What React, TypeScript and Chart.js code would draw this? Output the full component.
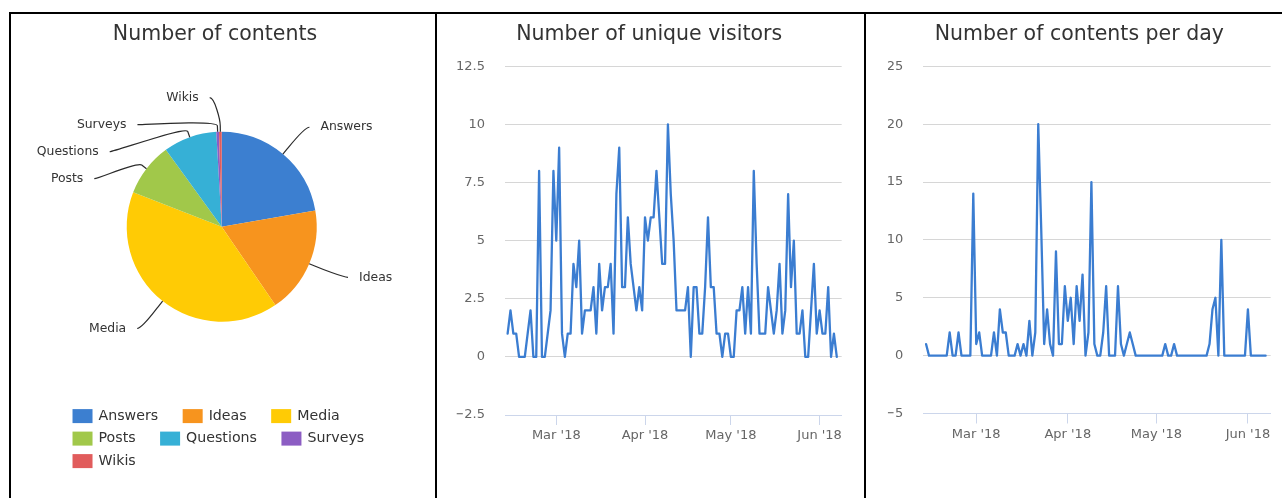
import React, { useEffect, useRef } from "react";
import { Chart, registerables, layouts } from "chart.js";

Chart.register(...registerables);

const FONT_FAMILY = '"DejaVu Sans", Verdana, sans-serif';
Chart.defaults.font.family = FONT_FAMILY;

// ---------- Pie: number of contents ----------
const contentCategories = ["Answers", "Ideas", "Media", "Posts", "Questions", "Surveys", "Wikis"];
const contentCounts = [49, 40, 89, 20, 20, 1, 1];
const contentColors = ["#3c7fd0", "#f7941e", "#ffcb05", "#a1c84a", "#36b0d6", "#8c5dc3", "#e15c5c"];

// ---------- Daily series (one value per day) ----------
const seriesStartDate = "2018-02-12";
const uniqueVisitors = [
  1, 2, 1, 1, 0, 0, 0, 1, 2, 0,
  0, 8, 0, 0, 1, 2, 8, 5, 9, 1,
  0, 1, 1, 4, 3, 5, 1, 2, 2, 2,
  3, 1, 4, 2, 3, 3, 4, 1, 7, 9,
  3, 3, 6, 4, 3, 2, 3, 2, 6, 5,
  6, 6, 8, 6, 4, 4, 10, 7, 5, 2,
  2, 2, 2, 3, 0, 3, 3, 1, 1, 3,
  6, 3, 3, 1, 1, 0, 1, 1, 0, 0,
  2, 2, 3, 1, 3, 1, 8, 4, 1, 1,
  1, 3, 2, 1, 2, 4, 1, 2, 7, 3,
  5, 1, 1, 2, 0, 0, 2, 4, 1, 2,
  1, 1, 3, 0, 1, 0,
];
const contentsPerDay = [
  1, 0, 0, 0, 0, 0, 0, 0, 2, 0,
  0, 2, 0, 0, 0, 0, 14, 1, 2, 0,
  0, 0, 0, 2, 0, 4, 2, 2, 0, 0,
  0, 1, 0, 1, 0, 3, 0, 2, 20, 11,
  1, 4, 1, 0, 9, 1, 1, 6, 3, 5,
  1, 6, 3, 7, 0, 2, 15, 1, 0, 0,
  2, 6, 0, 0, 0, 6, 1, 0, 1, 2,
  1, 0, 0, 0, 0, 0, 0, 0, 0, 0,
  0, 1, 0, 0, 1, 0, 0, 0, 0, 0,
  0, 0, 0, 0, 0, 0, 1, 4, 5, 0,
  10, 0, 0, 0, 0, 0, 0, 0, 0, 4,
  0, 0, 0, 0, 0, 0,
];
const monthTickDates = ["2018-03-01", "2018-04-01", "2018-05-01", "2018-06-01"];
const monthTickLabels = ["Mar '18", "Apr '18", "May '18", "Jun '18"];
const visitorsTicks = [-2.5, 0, 2.5, 5, 7.5, 10, 12.5];
const contentsTicks = [-5, 0, 5, 10, 15, 20, 25];
const axisStart = "2018-02-11T02:00:00Z";
const axisEnd = "2018-06-08T17:00:00Z";

// ---------- styling ----------
const LINE_COLOR = "#3b7dd1";
const GRID_COLOR = "#d6d6d6";
const AXIS_COLOR = "#ccd6eb";
const TEXT_DARK = "#333333";
const TEXT_AXIS = "#666666";
const TITLE_FONT = { family: FONT_FAMILY, size: 20.5, weight: "normal" as const };
const TITLE_PADDING = { top: 8.3, bottom: 19.4 };

const DAY_MS = 86400000;
const toUTC = (d: string) => Date.parse(d.length === 10 ? d + "T00:00:00Z" : d);
const monthTickValues = monthTickDates.map(toUTC);
const fmtNum = (v: number) => (v < 0 ? "\u2212" + String(Math.abs(v)) : String(v));

function toPoints(values: number[]) {
  const t0 = toUTC(seriesStartDate);
  return values.map((v, i) => ({ x: t0 + i * DAY_MS, y: v }));
}

function makeSpacer(width: number) {
  return {
    id: "leftSpacer",
    beforeInit(chart: any) {
      const box: any = {
        position: "left",
        weight: 0,
        fullSize: false,
        options: {},
        left: 0, top: 0, right: 0, bottom: 0, width: 0, height: 0,
        isHorizontal() { return false; },
        update(_maxW: number, maxH: number) { this.width = width; this.height = maxH; },
        draw() {},
      };
      layouts.addBox(chart, box);
    },
  };
}

const pieLabelsPlugin = {
  id: "pieLabels",
  afterDatasetsDraw(chart: any) {
    const meta = chart.getDatasetMeta(0);
    const ctx = chart.ctx as CanvasRenderingContext2D;
    const labels = chart.data.labels as string[];
    const items = meta.data.map((arc: any, i: number) => {
      const p = arc.getProps(["x", "y", "startAngle", "endAngle", "outerRadius"], true);
      const a = (p.startAngle + p.endAngle) / 2;
      const cos = Math.cos(a), sin = Math.sin(a);
      return {
        text: labels[i], cx: p.x, cy: p.y, r: p.outerRadius, cos, sin,
        right: cos >= 0, natY: p.y + (p.outerRadius + 35) * sin, y: 0, atEdge: false,
      };
    });
    for (const side of [true, false]) {
      const group = items.filter((it: any) => it.right === side).sort((a: any, b: any) => a.natY - b.natY);
      let prev = -Infinity;
      group.forEach((it: any) => {
        const minY = it.cy - it.r - 34;
        let y = Math.max(it.natY, prev + 27);
        if (y <= minY) { y = minY; it.atEdge = true; }
        it.y = y;
        prev = y;
      });
    }
    ctx.save();
    ctx.font = `12.4px ${FONT_FAMILY}`;
    ctx.textBaseline = "middle";
    items.forEach((it: any) => {
      const R = it.r + 30;
      const useY = it.atEdge ? it.natY : it.y;
      const dy = Math.max(-R, Math.min(R, useY - it.cy));
      const dx = Math.sqrt(R * R - dy * dy) + 12;
      const sign = it.right ? 1 : -1;
      const ax = it.cx + sign * dx;
      const ay = it.y;
      const tx = it.cx + it.r * it.cos, ty = it.cy + it.r * it.sin;
      const bx = it.cx + (it.r + 6) * it.cos, by = it.cy + (it.r + 6) * it.sin;
      ctx.beginPath();
      ctx.moveTo(ax, ay);
      ctx.bezierCurveTo(ax - sign * 5, ay, 2 * bx - tx, 2 * by - ty, bx, by);
      ctx.lineTo(tx, ty);
      ctx.strokeStyle = "#2b2b2b";
      ctx.lineWidth = 1.2;
      ctx.stroke();
      ctx.fillStyle = TEXT_DARK;
      ctx.textAlign = it.right ? "left" : "right";
      ctx.fillText(it.text, ax + sign * 11, ay);
    });
    ctx.restore();
  },
};

const pieLegendPlugin = {
  id: "pieLegend",
  afterDraw(chart: any) {
    const ctx = chart.ctx as CanvasRenderingContext2D;
    const area = chart.chartArea;
    const labels = chart.data.labels as string[];
    const colors = chart.data.datasets[0].backgroundColor as string[];
    ctx.save();
    ctx.font = `14.2px ${FONT_FAMILY}`;
    const SW = 20, SH = 14, GAP = 6, ITEM_GAP = 24.5, MAXW = 320, ROW_H = 22.5;
    const items = labels.map((t, i) => ({ t, c: colors[i], w: SW + GAP + ctx.measureText(t).width }));
    const rows: { items: typeof items; w: number }[] = [];
    let cur: typeof items = [];
    let curW = 0;
    items.forEach((it) => {
      const add = cur.length ? ITEM_GAP + it.w : it.w;
      if (cur.length && curW + add > MAXW) {
        rows.push({ items: cur, w: curW });
        cur = [it];
        curW = it.w;
      } else {
        cur.push(it);
        curW += add;
      }
    });
    if (cur.length) rows.push({ items: cur, w: curW });
    const blockW = Math.max(...rows.map((r) => r.w));
    const tb = chart.titleBlock;
    const titleCenter = tb ? (tb.left + tb.right) / 2 : chart.width / 2;
    const centerX = ((area.left + area.right) / 2 + titleCenter) / 2;
    const left = centerX - blockW / 2;
    ctx.textBaseline = "middle";
    ctx.textAlign = "left";
    rows.forEach((row, ri) => {
      let x = left;
      const cy = area.bottom + 29 + ri * ROW_H;
      row.items.forEach((it) => {
        ctx.fillStyle = it.c;
        ctx.fillRect(x, cy - SH / 2, SW, SH);
        ctx.fillStyle = TEXT_DARK;
        ctx.fillText(it.t, x + SW + GAP, cy);
        x += it.w + ITEM_GAP;
      });
    });
    ctx.restore();
  },
};

function pieConfig(): any {
  return {
    type: "pie",
    data: {
      labels: contentCategories,
      datasets: [
        {
          data: contentCounts,
          backgroundColor: contentColors,
          borderWidth: 0,
          radius: 95,
        },
      ],
    },
    options: {
      responsive: false,
      animation: false,
      events: [],
      layout: { padding: { left: 0, right: 16, top: 0, bottom: 110.9 } },
      plugins: {
        legend: { display: false },
        tooltip: { enabled: false },
        title: {
          display: true,
          text: "Number of contents",
          color: TEXT_DARK,
          font: TITLE_FONT,
          padding: TITLE_PADDING,
        },
      },
    },
    plugins: [makeSpacer(13.4), pieLabelsPlugin, pieLegendPlugin],
  };
}

function lineConfig(
  title: string,
  values: number[],
  yTicks: number[],
  padL: number,
  padR: number,
  yWidth: number,
  xHeight: number
): any {
  const minY = yTicks[0];
  const maxY = yTicks[yTicks.length - 1];
  return {
    type: "line",
    data: {
      datasets: [
        {
          data: toPoints(values),
          borderColor: LINE_COLOR,
          borderWidth: 2.3,
          pointRadius: 0,
          pointHoverRadius: 0,
          tension: 0,
          fill: false,
          borderJoinStyle: "round",
          borderCapStyle: "round",
        },
      ],
    },
    options: {
      responsive: false,
      animation: false,
      events: [],
      layout: { padding: { left: padL, right: padR, top: 0, bottom: 0 } },
      plugins: {
        legend: { display: false },
        tooltip: { enabled: false },
        title: {
          display: true,
          text: title,
          color: TEXT_DARK,
          font: TITLE_FONT,
          padding: TITLE_PADDING,
        },
      },
      scales: {
        x: {
          type: "linear",
          min: toUTC(axisStart),
          max: toUTC(axisEnd),
          afterBuildTicks: (s: any) => {
            s.ticks = monthTickValues.map((value) => ({ value }));
          },
          afterFit: (s: any) => {
            s.height = xHeight;
            s.paddingLeft = 0;
            s.paddingRight = 0;
          },
          grid: {
            display: true,
            drawOnChartArea: false,
            drawTicks: true,
            tickLength: 10,
            color: AXIS_COLOR,
            lineWidth: 1,
          },
          border: { display: true, color: AXIS_COLOR, width: 1 },
          ticks: {
            callback: (v: number) => {
              const k = monthTickValues.indexOf(v);
              return k >= 0 ? monthTickLabels[k] : "";
            },
            color: TEXT_AXIS,
            font: { family: FONT_FAMILY, size: 13 },
            padding: 3,
            maxRotation: 0,
            autoSkip: false,
          },
        },
        y: {
          type: "linear",
          min: minY,
          max: maxY,
          afterBuildTicks: (s: any) => {
            s.ticks = yTicks.map((value) => ({ value }));
          },
          afterFit: (s: any) => {
            s.width = yWidth;
          },
          grid: {
            color: (c: any) => (c.tick && c.tick.value === minY ? AXIS_COLOR : GRID_COLOR),
            drawTicks: false,
            lineWidth: 1,
          },
          border: { display: false },
          ticks: {
            padding: 20,
            color: TEXT_AXIS,
            font: { family: FONT_FAMILY, size: 13 },
            callback: (v: number) => fmtNum(v),
          },
        },
      },
    },
  };
}

function ChartCanvas(props: { make: () => any; left: number; top: number; width: number; height: number }) {
  const ref = useRef<HTMLCanvasElement>(null);
  useEffect(() => {
    const chart = new Chart(ref.current as HTMLCanvasElement, props.make());
    return () => chart.destroy();
  }, []);
  return (
    <canvas
      ref={ref}
      width={props.width}
      height={props.height}
      style={{ position: "absolute", left: props.left, top: props.top, width: props.width, height: props.height }}
    />
  );
}

function Border(props: { left: number; top: number; width: number; height: number }) {
  return (
    <div
      style={{
        position: "absolute",
        left: props.left,
        top: props.top,
        width: props.width,
        height: props.height,
        background: "#000",
      }}
    />
  );
}

export default function App() {
  return (
    <div
      style={{
        position: "absolute",
        left: 0,
        top: 0,
        width: 1282,
        height: 498,
        overflow: "hidden",
        background: "#fff",
      }}
    >
      <ChartCanvas make={pieConfig} left={11} top={14} width={424} height={484} />
      <ChartCanvas
        make={() => lineConfig("Number of unique visitors", uniqueVisitors, visitorsTicks, 19.73, 22.33, 48.27, 83)}
        left={437}
        top={14}
        width={427}
        height={484}
      />
      <ChartCanvas
        make={() => lineConfig("Number of contents per day", contentsPerDay, contentsTicks, 21.93, 11.33, 35.4, 84.5)}
        left={866}
        top={14}
        width={416}
        height={484}
      />
      <Border left={9} top={12} width={1273} height={2} />
      <Border left={9} top={12} width={2} height={486} />
      <Border left={435} top={12} width={2} height={486} />
      <Border left={864} top={12} width={2} height={486} />
    </div>
  );
}
